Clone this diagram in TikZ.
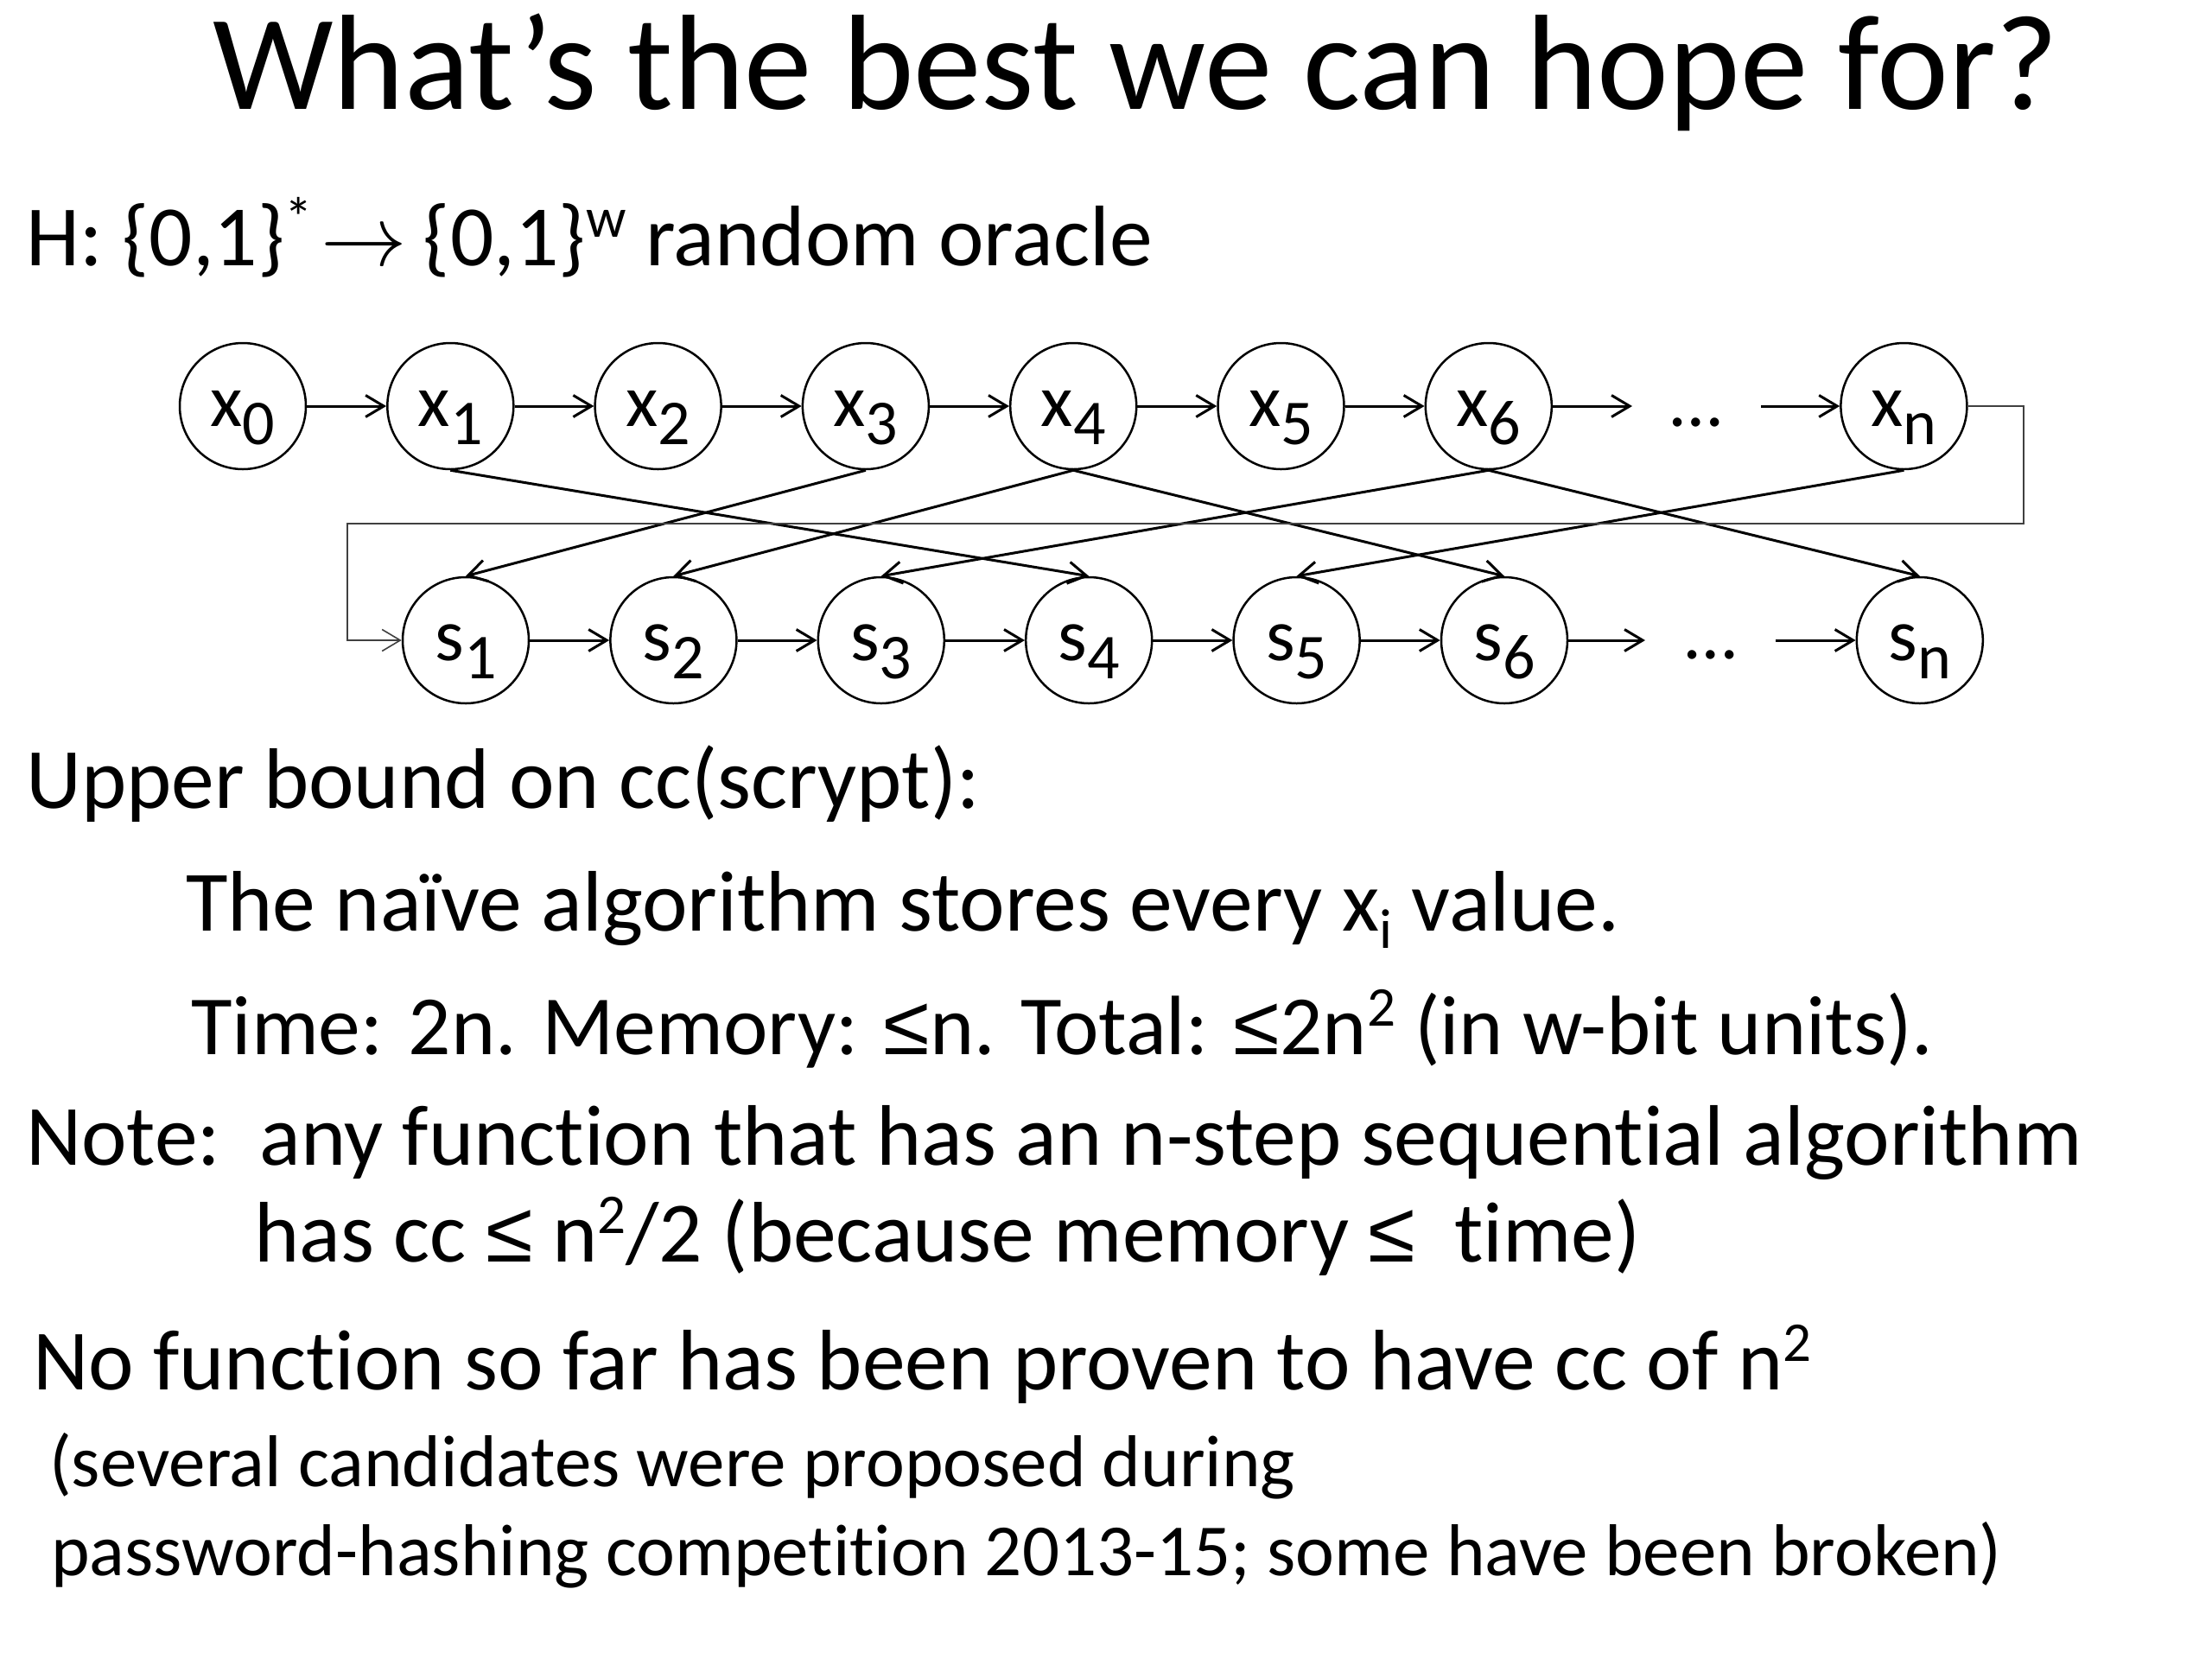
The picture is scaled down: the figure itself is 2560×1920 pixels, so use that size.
\documentclass[tikz,border=0pt]{standalone}
\usepackage{fix-cm}
\usepackage{fontspec}
\setmainfont{Carlito}[Ligatures=NoCommon]
\newfontfamily\lesym{Liberation Sans}
\usetikzlibrary{arrows.meta}
\newcommand{\vsub}[1]{\raisebox{-21pt}{\fontsize{74}{74}\selectfont #1}}
\newcommand{\bsup}[1]{\raisebox{33pt}{\fontsize{65}{65}\selectfont #1}}
\newcommand{\bsub}[1]{\raisebox{-20pt}{\fontsize{65}{65}\selectfont #1}}
\newcommand{\myle}{{\lesym ≤}}
\begin{document}
\begin{tikzpicture}[x=1pt,y=-1pt,
  vtx/.style={circle, draw, line width=2.5pt, minimum size=146pt, inner sep=0pt,
    text height=54pt, text depth=8pt, font=\fontsize{86}{86}\selectfont},
  dots/.style={inner sep=0pt, anchor=base, font=\fontsize{86}{86}\selectfont},
  edge/.style={line width=3pt, -{Straight Barb[length=21pt,width=25pt]}},
  fb/.style={line width=1.6pt, draw=black!75, -{Straight Barb[length=21pt,width=25pt]}},
  txt/.style={anchor=base west, inner sep=0pt, font=\fontsize{99.5}{118}\selectfont},
  small/.style={anchor=base west, inner sep=0pt, font=\fontsize{85}{100}\selectfont}]
\useasboundingbox (0,0) rectangle (2560,1920);

% title and text
\node[anchor=base west, inner sep=0pt, font=\fontsize{157}{170}\selectfont] (title) at (246,126) {What’s the best we can hope for?};
\node[txt] (h) at (30,307) {H: \{0,1\}\bsup{*}\kern10pt$\rightarrow$\kern-4pt\ \{0,1\}\bsup{w} random oracle};
\node[txt] (ub) at (30,935) {Upper bound on cc(scrypt):};
\node[txt] (naive) at (215,1077) {The naïve algorithm stores every x\bsub{i} value.};
\node[txt, font=\fontsize{97.5}{118}\selectfont] (time) at (221,1220) {Time: 2n. Memory: \myle n. Total: \myle 2n\bsup{2} (in w-bit units).};
\node[txt] (note) at (30,1348) {Note:\ \ any function that has an n-step sequential algorithm};
\node[txt] (hascc) at (294,1460) {has cc \myle\ n\bsup{2}/2 (because memory \myle\ \ time)};
\node[txt] (nofn) at (38,1608) {No function so far has been proven to have cc of n\bsup{2}};
\node[small] (sev) at (57,1720) {(several candidates were proposed during};
\node[small] (pw) at (59,1823) {password-hashing competition 2013-15; some have been broken)};

% x row
\foreach \i/\lab in {0/0,1/1,2/2,3/3,4/4,5/5,6/6,8/n}
  \node[vtx] (x\lab) at ({281+240.3*\i},470) {x\vsub{\lab}};
\foreach \i/\lab in {1/1,2/2,3/3,4/4,5/5,6/6,8/n}
  \node[vtx] (s\lab) at ({539+240.4*(\i-1)},741) {s\vsub{\lab}};

\node[dots] (dx) at (1963,493) {…};
\node[dots] (ds) at (1980,762) {…};
\coordinate (dxa) at (1889,470);
\coordinate (dxb) at (2038,470);
\coordinate (dsa) at (1904,741);
\coordinate (dsb) at (2055,741);

% chain arrows
\draw[edge] (x0) -- (x1);
\draw[edge] (x1) -- (x2);
\draw[edge] (x2) -- (x3);
\draw[edge] (x3) -- (x4);
\draw[edge] (x4) -- (x5);
\draw[edge] (x5) -- (x6);
\draw[edge] (x6) -- (dxa);
\draw[edge] (dxb) -- (xn);
\draw[edge] (s1) -- (s2);
\draw[edge] (s2) -- (s3);
\draw[edge] (s3) -- (s4);
\draw[edge] (s4) -- (s5);
\draw[edge] (s5) -- (s6);
\draw[edge] (s6) -- (dsa);
\draw[edge] (dsb) -- (sn);

% cross edges
\draw[edge] (x1.south) -- (s4.north);
\draw[edge] (x3.south) -- (s1.north);
\draw[edge] (x4.south) -- (s2.north);
\draw[edge] (x4.south) -- (s6.north);
\draw[edge] (x6.south) -- (s3.north);
\draw[edge] (x6.south) -- (sn.north);
\draw[edge] (xn.south) -- (s5.north);

% feedback
\coordinate (fb1) at (2342,470);
\coordinate (fb2) at (2342,606);
\coordinate (fb3) at (402,606);
\coordinate (fb4) at (402,741);
\draw[fb] (xn.east) -- (fb1) -- (fb2) -- (fb3) -- (fb4) -- (s1.west);
\end{tikzpicture}
\end{document}
